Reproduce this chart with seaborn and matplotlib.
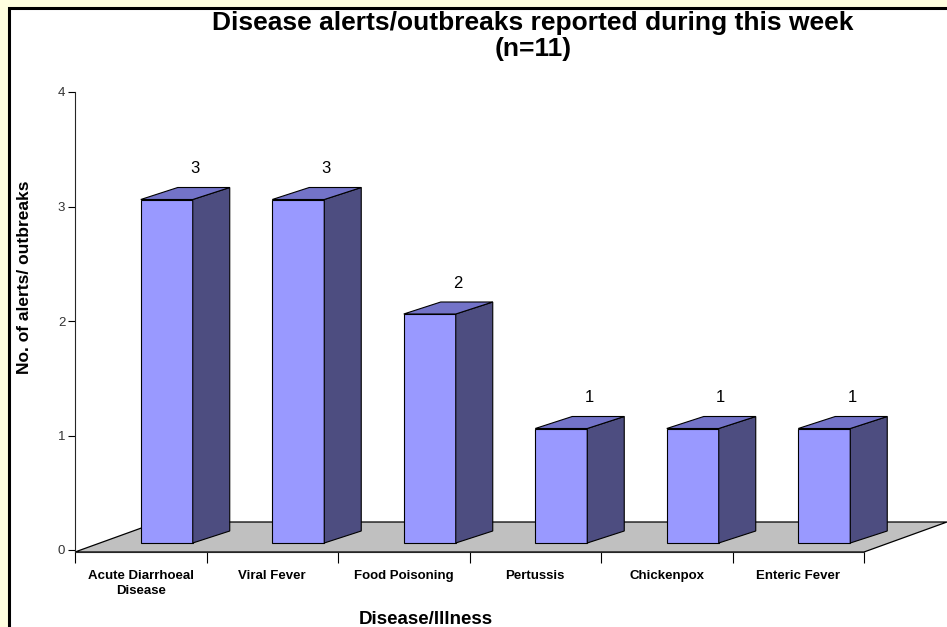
import matplotlib
matplotlib.use("Agg")
import matplotlib.pyplot as plt
from matplotlib.patches import Polygon, Rectangle
import seaborn as sns
import pandas as pd

# Data
diseases = ["Acute Diarrhoeal\nDisease", "Viral Fever", "Food Poisoning",
            "Pertussis", "Chickenpox", "Enteric Fever"]
counts = [3, 3, 2, 1, 1, 1]
yticks = [0, 1, 2, 3, 4]

df = pd.DataFrame({"disease": diseases, "count": counts})

sns.set_style("ticks")
plt.rcParams["font.family"] = ["Liberation Sans", "DejaVu Sans"]
plt.rcParams["text.color"] = "black"
plt.rcParams["axes.labelcolor"] = "black"
plt.rcParams["xtick.color"] = "black"
plt.rcParams["ytick.color"] = "black"

W, H, DPI = 947, 627, 100
fig = plt.figure(figsize=(W / DPI, H / DPI), dpi=DPI, facecolor="#FFFFE0")

# white panel with black frame (left/top edges visible)
fig.patches.append(Rectangle((9 / W, -0.05), 1.1, (H - 7.5) / H + 0.05,
                             transform=fig.transFigure, facecolor="white",
                             edgecolor="black", linewidth=2.2, zorder=-10))

# axes placed so that 1 category = 131.5 px and 1 count = 114.5 px
ax = fig.add_axes([75 / W, 77 / H, 789 / W, 458 / H])
ax.set_facecolor("none")
ux = 789 / 6
uy = 458 / 4

front = "#9999FF"
side = "#4D4D80"
top = "#7373C8"

sns.barplot(data=df, x="disease", y="count", width=52 / ux, color=front,
            edgecolor="black", linewidth=0.8, saturation=1, ax=ax, zorder=3)
ax.set_xlim(-0.5, 5.5)
ax.set_ylim(0, 4)

# floor of the 3D chart
fy = -2 / uy
fdx, fdy = 83 / ux, 30 / uy
ax.add_patch(Polygon([(-0.5, fy), (5.5, fy), (5.5 + fdx, fy + fdy), (-0.5 + fdx, fy + fdy)],
                     closed=True, facecolor="#C0C0C0", edgecolor="black",
                     linewidth=0.9, clip_on=False, zorder=1))

# shift bars into the depth of the floor and add side / top faces
sx, by = 26 / ux, 7 / uy
ddx, ddy = 37 / ux, 12 / uy
for p, v in zip(ax.patches[:len(counts)], counts):
    p.set_x(p.get_x() + sx)
    p.set_y(by)
    p.set_clip_on(False)
    x, w, h = p.get_x(), p.get_width(), p.get_height()
    ax.add_patch(Polygon([(x + w, by), (x + w, by + h), (x + w + ddx, by + h + ddy),
                          (x + w + ddx, by + ddy)], closed=True, facecolor=side,
                         edgecolor="black", linewidth=0.8, clip_on=False, zorder=3))
    ax.add_patch(Polygon([(x, by + h), (x + w, by + h), (x + w + ddx, by + h + ddy),
                          (x + ddx, by + h + ddy)], closed=True, facecolor=top,
                         edgecolor="black", linewidth=0.8, clip_on=False, zorder=3))
    ax.text(x + w / 2 + 28 / ux, by + h + 31 / uy, str(v), ha="center", va="center",
            fontsize=12, color="black", zorder=4)

for s in ["top", "right"]:
    ax.spines[s].set_visible(False)
ax.spines["bottom"].set_position(("data", fy))
ax.spines["left"].set_linewidth(0.8)
ax.spines["bottom"].set_linewidth(0.8)

ax.set_yticks(yticks)
ax.tick_params(axis="y", direction="out", length=5, width=0.8, labelsize=9.5,
               labelcolor="#333333", pad=2)
ax.set_xticks(range(len(diseases)))
ax.set_xticklabels(diseases, fontsize=9.5, fontweight="bold", linespacing=1.3)
ax.set_xticks([i - 0.5 for i in range(len(diseases) + 1)], minor=True)
ax.tick_params(axis="x", which="major", length=0, pad=13)
ax.tick_params(axis="x", which="minor", direction="out", length=8, width=0.8)

ax.set_xlabel("Disease/Illness", fontsize=13.5, fontweight="bold", va="center")
ax.xaxis.set_label_coords(0.445, -0.152)
ax.set_ylabel("No. of alerts/ outbreaks", fontsize=12.5, fontweight="bold", va="center")
ax.yaxis.set_label_coords(-0.064, 0.595)

fig.text(533 / W, 1 - 23 / H, "Disease alerts/outbreaks reported during this week",
         ha="center", va="center", fontsize=19, fontweight="bold")
fig.text(533 / W, 1 - 49 / H, "(n=11)", ha="center", va="center",
         fontsize=19, fontweight="bold")

fig.savefig("out.png", dpi=DPI, facecolor=fig.get_facecolor())
